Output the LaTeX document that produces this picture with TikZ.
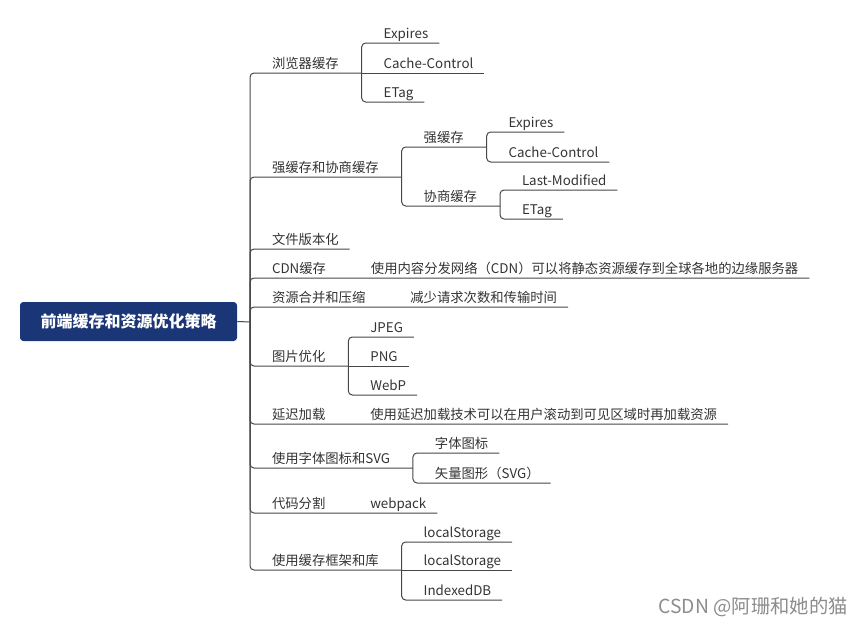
\documentclass[tikz,border=0pt]{standalone}
\usepackage{fontspec}
\newfontfamily\cjk{Noto Sans CJK SC}
\usetikzlibrary{positioning}
\definecolor{rootblue}{HTML}{1B3676}
\definecolor{inkgray}{HTML}{333333}

\begin{document}
\begin{tikzpicture}[
  x=0.75pt, y=-0.75pt,
  root/.style={rectangle, fill=rootblue, rounded corners=2.5pt, text=white, font=\cjk\bfseries\fontsize{12}{14}\selectfont, minimum width=162.75pt, minimum height=29.25pt, inner sep=0pt},
  topic/.style={anchor=south west, xshift=8.25pt, inner xsep=8.25pt, inner ysep=3.75pt, text depth=0pt, outer sep=0pt, text=inkgray, font=\cjk\fontsize{10}{12}\selectfont},
  branch/.style={draw=black!72, line width=0.75pt, rounded corners=3pt},
  wmark/.style={anchor=east, inner sep=0pt, text=black!45, font=\cjk\fontsize{14.5}{16}\selectfont}
]
  \useasboundingbox (0,0) rectangle (864,628);

  \node[root] (root) at (128.5,321.5) {前端缓存和资源优化策略};
  \coordinate (trunk) at (250,322);
  \draw[branch] (root.east) -- (trunk);

  % main branches
  \node[topic] (browser) at (250,73) {浏览器缓存};
  \node[topic] (strong) at (250,177) {强缓存和协商缓存};
  \node[topic] (version) at (250,249) {文件版本化};
  \node[topic] (cdn) at (250,278) {CDN缓存};
  \node[topic] (merge) at (250,307) {资源合并和压缩};
  \node[topic] (image) at (250,366) {图片优化};
  \node[topic] (lazy) at (250,424) {延迟加载};
  \node[topic] (iconfont) at (250,468) {使用字体图标和SVG};
  \node[topic] (split) at (250,513) {代码分割};
  \node[topic] (library) at (250,570) {使用缓存框架和库};

  \coordinate (browser-j) at ([xshift=9pt]browser.south east);
  \coordinate (strong-j) at ([xshift=9pt]strong.south east);
  \coordinate (cdn-j) at ([xshift=9pt]cdn.south east);
  \coordinate (merge-j) at ([xshift=9pt]merge.south east);
  \coordinate (image-j) at ([xshift=9pt]image.south east);
  \coordinate (lazy-j) at ([xshift=9pt]lazy.south east);
  \coordinate (iconfont-j) at ([xshift=9pt]iconfont.south east);
  \coordinate (split-j) at ([xshift=9pt]split.south east);
  \coordinate (library-j) at ([xshift=9pt]library.south east);

  % sub topics
  \node[topic] (b-exp) at (browser-j |- 0,43) {Expires};
  \node[topic] (b-cc) at (browser-j) {Cache-Control};
  \node[topic] (b-etag) at (browser-j |- 0,102) {ETag};

  \node[topic] (s-force) at (strong-j |- 0,147) {强缓存};
  \node[topic] (s-nego) at (strong-j |- 0,206) {协商缓存};
  \coordinate (s-force-j) at ([xshift=9pt]s-force.south east);
  \coordinate (s-nego-j) at ([xshift=9pt]s-nego.south east);
  \node[topic] (f-exp) at (s-force-j |- 0,132) {Expires};
  \node[topic] (f-cc) at (s-force-j |- 0,162) {Cache-Control};
  \node[topic] (n-lm) at (s-nego-j |- 0,190) {Last-Modified};
  \node[topic] (n-etag) at (s-nego-j |- 0,219) {ETag};

  \node[topic] (cdn-desc) at (cdn-j) {使用内容分发网络（CDN）可以将静态资源缓存到全球各地的边缘服务器};
  \node[topic] (merge-desc) at (merge-j) {减少请求次数和传输时间};

  \node[topic] (i-jpeg) at (image-j |- 0,337) {JPEG};
  \node[topic] (i-png) at (image-j) {PNG};
  \node[topic] (i-webp) at (image-j |- 0,395) {WebP};

  \node[topic] (lazy-desc) at (lazy-j) {使用延迟加载技术可以在用户滚动到可见区域时再加载资源};

  \node[topic] (f-icon) at (iconfont-j |- 0,453) {字体图标};
  \node[topic] (f-svg) at (iconfont-j |- 0,483) {矢量图形（SVG）};

  \node[topic] (webpack) at (split-j) {webpack};

  \node[topic] (l-local1) at (library-j |- 0,542) {localStorage};
  \node[topic] (l-local2) at (library-j) {localStorage};
  \node[topic] (l-idb) at (library-j |- 0,600) {IndexedDB};

  % connectors
  \draw[branch] (trunk) |- (browser-j);
  \draw[branch] (trunk) |- (strong-j);
  \draw[branch] (trunk) |- (version.south east);
  \draw[branch] (trunk) |- (cdn-desc.south east);
  \draw[branch] (trunk) |- (merge-desc.south east);
  \draw[branch] (trunk) |- (image-j);
  \draw[branch] (trunk) |- (lazy-desc.south east);
  \draw[branch] (trunk) |- (iconfont-j);
  \draw[branch] (trunk) |- (webpack.south east);
  \draw[branch] (trunk) |- (library-j);

  \draw[branch] (browser-j) |- (b-exp.south east);
  \draw[branch] (browser-j) -- (b-cc.south east);
  \draw[branch] (browser-j) |- (b-etag.south east);

  \draw[branch] (strong-j) |- (s-force-j);
  \draw[branch] (strong-j) |- (s-nego-j);
  \draw[branch] (s-force-j) |- (f-exp.south east);
  \draw[branch] (s-force-j) |- (f-cc.south east);
  \draw[branch] (s-nego-j) |- (n-lm.south east);
  \draw[branch] (s-nego-j) |- (n-etag.south east);

  \draw[branch] (image-j) |- (i-jpeg.south east);
  \draw[branch] (image-j) -- (i-png.south east);
  \draw[branch] (image-j) |- (i-webp.south east);

  \draw[branch] (iconfont-j) |- (f-icon.south east);
  \draw[branch] (iconfont-j) |- (f-svg.south east);

  \draw[branch] (library-j) |- (l-local1.south east);
  \draw[branch] (library-j) -- (l-local2.south east);
  \draw[branch] (library-j) |- (l-idb.south east);

  \node[wmark] (credit) at (848,607) {CSDN @阿珊和她的猫};
\end{tikzpicture}
\end{document}
